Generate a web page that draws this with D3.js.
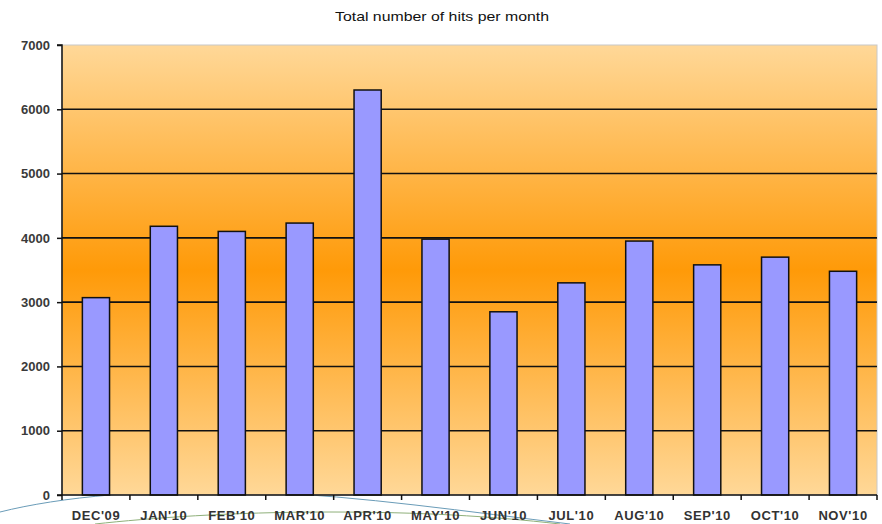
<!DOCTYPE html>
<html><head><meta charset="utf-8">
<script src="https://cdn.jsdelivr.net/npm/d3@7"></script>
<style>body{margin:0;background:#fff}svg{display:block}</style>
</head><body>
<svg id="c" width="882" height="524"></svg>
<script>
const categories = ["DEC'09","JAN'10","FEB'10","MAR'10","APR'10","MAY'10","JUN'10","JUL'10","AUG'10","SEP'10","OCT'10","NOV'10"];
const hits = [3070,4180,4100,4230,6300,3980,2850,3300,3950,3580,3700,3480];
const yTicks = [0,1000,2000,3000,4000,5000,6000,7000];
const title = "Total number of hits per month";

const svg = d3.select("#c");
const m = {l:62, r:877, t:45, b:495};
const x = d3.scaleBand().domain(categories).range([m.l, m.r]).paddingInner(0).paddingOuter(0);
const y = d3.scaleLinear().domain([0,7000]).range([m.b, m.t]);

const defs = svg.append("defs");
const g = defs.append("linearGradient").attr("id","bg").attr("x1",0).attr("y1",0).attr("x2",0).attr("y2",1);
g.append("stop").attr("offset","0%").attr("stop-color","#ffd898");
g.append("stop").attr("offset","50%").attr("stop-color","#ff9a08");
g.append("stop").attr("offset","100%").attr("stop-color","#ffd898");

// decorative swooshes
svg.append("path").attr("d","M0,512 C60,497 150,488 260,492 C360,496 470,512 570,524")
  .attr("fill","none").attr("stroke","#6a9cb8").attr("stroke-width",1);
svg.append("path").attr("d","M95,524 C150,518 230,512 330,512 C420,512 490,516 560,524")
  .attr("fill","none").attr("stroke","#8fb07a").attr("stroke-width",1);

svg.append("rect").attr("x",m.l).attr("y",m.t).attr("width",m.r-m.l).attr("height",m.b-m.t)
  .attr("fill","url(#bg)").attr("stroke","#c8c8c8").attr("stroke-width",1);

// gridlines
svg.append("g").selectAll("line").data(yTicks.filter(d=>d>0 && d<7000)).join("line")
  .attr("x1",m.l).attr("x2",m.r).attr("y1",d=>y(d)).attr("y2",d=>y(d))
  .attr("stroke","#111").attr("stroke-width",1.6);

// bars
const bw = x.bandwidth()*0.4;
svg.append("g").selectAll("rect").data(hits).join("rect")
  .attr("x",(d,i)=>x(categories[i])+x.bandwidth()/2-bw/2)
  .attr("y",d=>y(d)).attr("width",bw).attr("height",d=>y(0)-y(d))
  .attr("fill","#9999ff").attr("stroke","#111").attr("stroke-width",1.5);

// y axis
const ya = svg.append("g").attr("transform",`translate(${m.l},0)`)
  .call(d3.axisLeft(y).tickValues(yTicks).tickSize(5).tickFormat(d3.format("d")));
ya.select(".domain").attr("stroke","#111").attr("stroke-width",1.5).attr("d",`M-5,${m.t}H0V${m.b}`);
ya.selectAll(".tick line").attr("stroke","#111").attr("stroke-width",1.5);
ya.selectAll("text").attr("font-family","Liberation Sans, Arial, sans-serif").attr("font-size",13)
  .attr("font-weight","bold").attr("fill","#3a3a3a").attr("x",-12).attr("letter-spacing","0");

// x axis
const xa = svg.append("g").attr("transform",`translate(0,${m.b})`)
  .call(d3.axisBottom(x).tickSize(0).tickPadding(0));
xa.select(".domain").remove();
const bounds = categories.map(c=>x(c)).concat([m.r]);
xa.append("g").selectAll("line").data(bounds).join("line")
  .attr("x1",d=>d).attr("x2",d=>d).attr("y1",0).attr("y2",5).attr("stroke","#111").attr("stroke-width",1.5);
xa.append("line").attr("x1",m.l-5).attr("x2",m.r).attr("y1",0).attr("y2",0).attr("stroke","#111").attr("stroke-width",1.5);
xa.selectAll(".tick text").attr("font-family","Liberation Sans, Arial, sans-serif").attr("font-size",13)
  .attr("font-weight","bold").attr("fill","#333").attr("dy",0).attr("y",25).attr("letter-spacing","0.6");

svg.append("text").attr("x",442).attr("y",21).attr("text-anchor","middle")
  .attr("font-family","Liberation Sans, Arial, sans-serif").attr("font-size",13).attr("fill","#111")
  .attr("textLength",214).attr("lengthAdjust","spacingAndGlyphs")
  .text(title);
</script>
</body></html>
